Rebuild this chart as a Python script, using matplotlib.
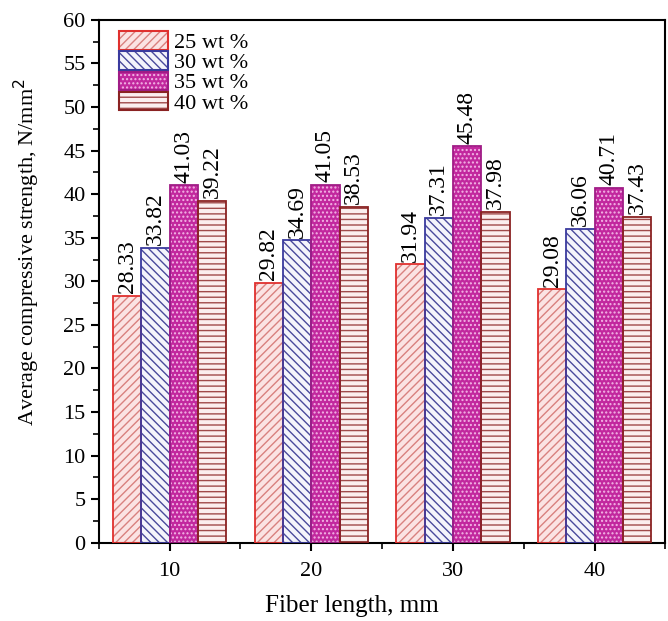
import matplotlib.pyplot as plt
import matplotlib.patches as mpatches
import numpy as np

# Data
fiber_length = [10, 20, 30, 40]
series_labels = ['25 wt %', '30 wt %', '35 wt %', '40 wt %']
strength_25 = [28.33, 29.82, 31.94, 29.08]
strength_30 = [33.82, 34.69, 37.31, 36.06]
strength_35 = [41.03, 41.05, 45.48, 40.71]
strength_40 = [39.22, 38.53, 37.98, 37.43]

plt.rcParams['font.family'] = ['Liberation Serif', 'DejaVu Serif']
plt.rcParams['hatch.linewidth'] = 1.0

# fill colour, hatch colour, hatch, outline colour
styles = [
    ('#fbe3e3', '#d9817f', '////', '#e0302e'),
    ('#f4f4fb', '#4a4a9c', '\\\\\\\\', '#3a3a9e'),
    ('#c2289e', '#f3b6e6', '....', '#a01c86'),
    ('#fbeeee', '#a04a4a', '---', '#8a2222'),
]

fig = plt.figure(figsize=(6.68, 6.21), dpi=100)
ax = fig.add_axes([0.148, 0.126, 0.848, 0.842])

x = np.array(fiber_length, dtype=float)
width = 2.0
all_series = [strength_25, strength_30, strength_35, strength_40]
handles = []
for i, (vals, (fc, hc, h, ec)) in enumerate(zip(all_series, styles)):
    pos = x - 4 + i * width
    # hatched fill first, then the outline on top
    ax.bar(pos, vals, width, align='edge', facecolor=fc, edgecolor=hc,
           hatch=h, linewidth=0, zorder=2)
    ax.bar(pos, vals, width, align='edge', fill=False, edgecolor=ec,
           linewidth=1.3, zorder=3)
    for p, v in zip(pos, vals):
        ax.text(p + width / 2, v + 0.3, f'{v:.2f}', rotation=90,
                ha='center', va='bottom', fontsize=17)
    handles.append((mpatches.Patch(facecolor=fc, edgecolor=hc, hatch=h, linewidth=0),
                    mpatches.Patch(fill=False, edgecolor=ec, linewidth=1.5)))

ax.set_xlim(5, 45)
ax.set_ylim(0, 60)
ax.set_xticks(fiber_length)
ax.set_xticks([5, 15, 25, 35, 45], minor=True)
ax.set_yticks(np.arange(0, 61, 5))
ax.set_yticks(np.arange(2.5, 60, 5), minor=True)
ax.tick_params(axis='both', which='major', direction='out', length=6, width=1.5, labelsize=16)
ax.tick_params(axis='x', which='major', pad=8)
ax.tick_params(axis='both', which='minor', direction='out', length=4, width=1.2)
for s in ax.spines.values():
    s.set_linewidth(1.5)

ax.set_xlabel('Fiber length, mm', fontsize=18)
ax.set_ylabel('Average compressive strength, N/mm$^2$', fontsize=16)
ax.xaxis.set_label_coords(0.447, -0.1)
ax.yaxis.set_label_coords(-0.1, 0.555)

ax.legend(handles, series_labels, loc='upper left', frameon=False, fontsize=16,
          handlelength=2.2, handleheight=0.9, labelspacing=-0.08,
          handletextpad=0.25, borderaxespad=0, bbox_to_anchor=(0.02, 0.995))

plt.savefig('out.png', dpi=100)
